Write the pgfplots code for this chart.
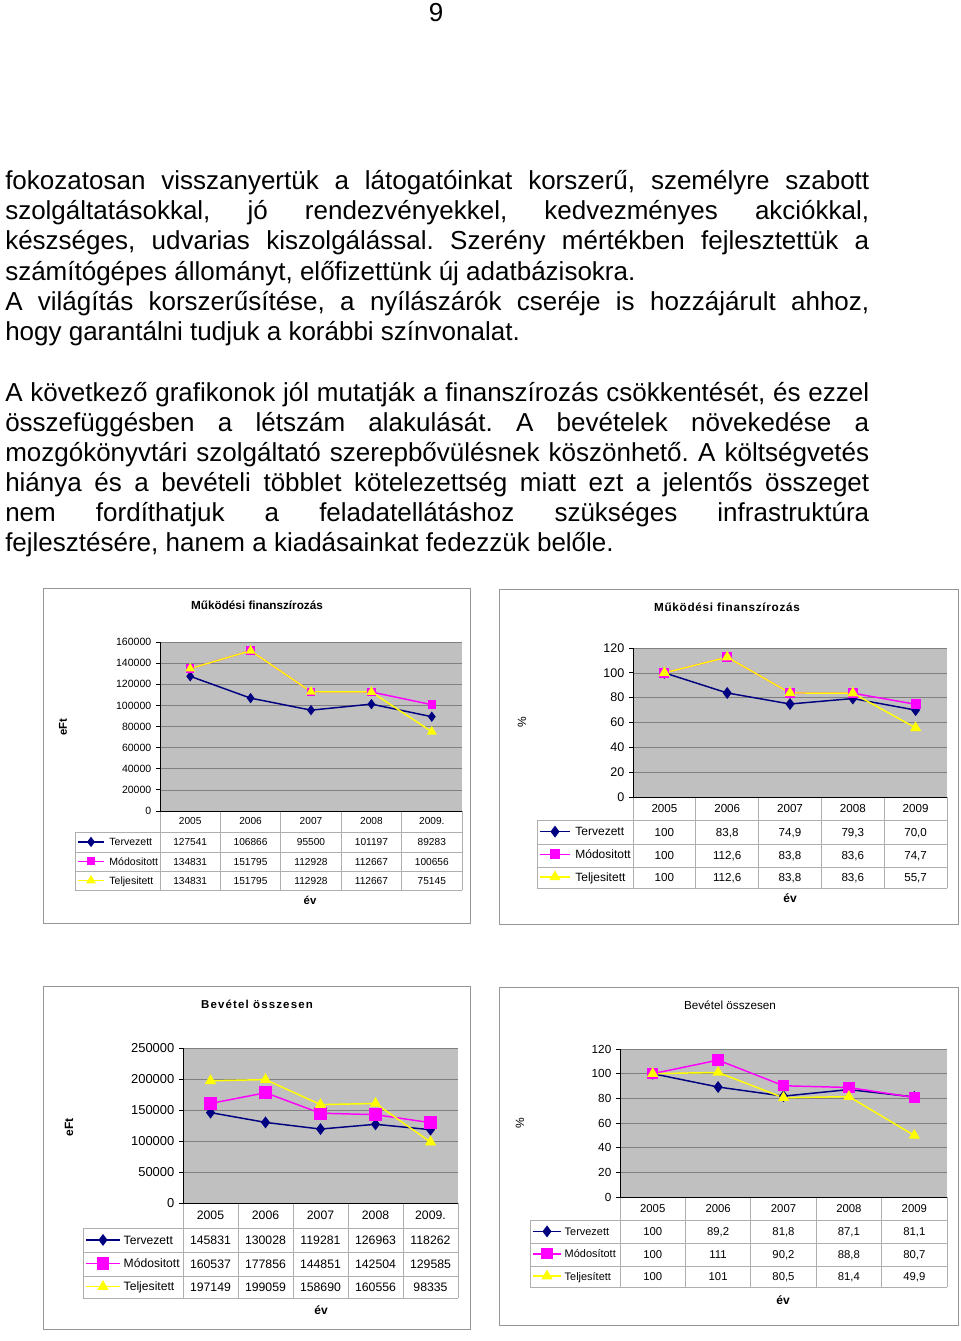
\documentclass[border=0pt]{standalone}
\usepackage{fontspec}
\setmainfont{Liberation Sans}
\usepackage{pgfplots}
\pgfplotsset{compat=1.18}

\definecolor{plotgray}{RGB}{192,192,192}
\definecolor{gridgray}{RGB}{128,128,128}
\definecolor{tgray}{RGB}{175,175,175}
\definecolor{framegray}{RGB}{150,150,150}
\definecolor{navy}{RGB}{0,0,128}
\definecolor{magen}{RGB}{255,0,255}
\definecolor{yel}{RGB}{255,255,0}

\pgfplotsset{
  xls/.style={
    scale only axis, clip=false,
    xmin=-0.5, xmax=4.5, ymin=0,
    xtick=\empty,
    minor xtick={-0.5,0.5,1.5,2.5,3.5,4.5},
    xminorgrids=true, ymajorgrids=true,
    major grid style={gridgray, line width=0.5pt},
    minor grid style={gridgray, line width=0.5pt},
    axis background/.style={fill=plotgray},
    axis x line*=bottom, axis y line*=left,
    axis line style={black, line width=0.6pt, -},
    tick align=outside, major tick length=3pt, minor tick length=0pt,
    tick style={black, line width=0.6pt},
    /pgf/number format/fixed,
    /pgf/number format/1000 sep={},
    /pgf/number format/assume math mode=true,
    scaled y ticks=false,
    legend cell align=left,
  },
  % legend sitting in the first column of the data table (position in axis description cs)
  tleg/.style n args={5}{legend style={at={(#1,#2)}, anchor=north west, draw=none, fill=none,
      inner sep=0pt, row sep=0pt, column sep=#5, font=\fontsize{#3}{#3}\selectfont,
      nodes={inner sep=0pt, minimum height=#4, text height=0.72*#3pt, text depth=0pt}}},
  terv/.style={navy, line width=1.1pt, mark=diamond*, mark size=3.6pt, mark options={solid, fill=navy}},
  modo/.style={magen, line width=1.1pt, mark=square*, mark size=3.2pt, mark options={solid, fill=magen}},
  telj/.style={yel, line width=1.1pt, mark=triangle*, mark size=3.8pt, mark options={solid, fill=yel}},
}

\tikzset{
  tc/.style={inner sep=0pt, anchor=base, font=\fontsize{#1}{#1}\selectfont, yshift={-0.358*#1pt}},
  tgrid/.style={tgray, line width=0.6pt},
}

% table row of values: x left, column width, y centre, font size, list
\newcommand\trow[5]{\foreach \v [count=\i from 0] in {#5} {\node[tc=#4] at ({#1+(\i+0.5)*#2},#3) {\v};}}
% table grid: legend left, plot left, plot right, plot bottom, row1 top, row2 top, row3 top, bottom
\newcommand\tgridlines[8]{%
  \draw[tgrid] (#1,#5) -- (#3,#5) (#1,#6) -- (#3,#6) (#1,#7) -- (#3,#7) (#1,#8) -- (#3,#8) (#1,#5) -- (#1,#8);
  \foreach \k in {0,...,5} {\draw[tgrid] ({#2+\k*(#3-#2)/5},#4) -- ({#2+\k*(#3-#2)/5},#8);}}

\newcommand\body{\fontsize{19.5}{22}\selectfont}

\begin{document}
\frenchspacing
\begin{tikzpicture}
\begin{scope}[x=0.75pt, y=-0.75pt]
\fill[white] (0,0) rectangle (960,1341);

\node[anchor=base, inner sep=0pt, font=\body] at (436,22) {9};

\begin{scope}[every node/.style={anchor=base west, inner sep=0pt, font=\body}]
\node at (5,190) {\makebox[648pt][s]{fokozatosan visszanyertük a látogatóinkat korszerű, személyre szabott}};
\node at (5,220) {\makebox[648pt][s]{szolgáltatásokkal, jó rendezvényekkel, kedvezményes akciókkal,}};
\node at (5,250) {\makebox[648pt][s]{készséges, udvarias kiszolgálással. Szerény mértékben fejlesztettük a}};
\node at (5,280) {számítógépes állományt, előfizettünk új adatbázisokra.};
\node at (5,310) {\makebox[648pt][s]{A világítás korszerűsítése, a nyílászárók cseréje is hozzájárult ahhoz,}};
\node at (5,340) {hogy garantálni tudjuk a korábbi színvonalat.};
\node at (5,401) {\makebox[648pt][s]{A következő grafikonok jól mutatják a finanszírozás csökkentését, és ezzel}};
\node at (5,431) {\makebox[648pt][s]{összefüggésben a létszám alakulását. A bevételek növekedése a}};
\node at (5,461) {\makebox[648pt][s]{mozgókönyvtári szolgáltató szerepbővülésnek köszönhető. A költségvetés}};
\node at (5,491) {\makebox[648pt][s]{hiánya és a bevételi többlet kötelezettség miatt ezt a jelentős összeget}};
\node at (5,521) {\makebox[648pt][s]{nem fordíthatjuk a feladatellátáshoz szükséges infrastruktúra}};
\node at (5,551) {fejlesztésére, hanem a kiadásainkat fedezzük belőle.};
\end{scope}

% ---- chart frames, titles, labels, tables
\draw[framegray, line width=0.75pt] (43,588) rectangle (470,923);
\draw[framegray, line width=0.75pt] (499,589) rectangle (958,924);
\draw[framegray, line width=0.75pt] (43,986) rectangle (470,1329);
\draw[framegray, line width=0.75pt] (499,987) rectangle (958,1325);

% chart 1
\node[font=\fontsize{8.8}{10}\selectfont\bfseries] at (257,605) {Működési finanszírozás};
\node[rotate=90, font=\fontsize{8.5}{10}\selectfont\bfseries] at (63,727) {eFt};
\node[font=\fontsize{8.5}{10}\selectfont\bfseries] at (310,900) {év};
\tgridlines{75}{160}{462}{811}{832}{852}{871}{890}
\trow{160}{60.4}{821}{7.6}{2005,2006,2007,2008,2009.}
\trow{160}{60.4}{842}{7.6}{127541,106866,95500,101197,89283}
\trow{160}{60.4}{861.5}{7.6}{134831,151795,112928,112667,100656}
\trow{160}{60.4}{880.5}{7.6}{134831,151795,112928,112667,75145}
\coordinate (P1) at (160,811);

% chart 2
\node[font=\fontsize{8.8}{10}\selectfont\bfseries\addfontfeatures{LetterSpace=6}] at (727,607) {Működési finanszírozás};
\node[rotate=90, font=\fontsize{9}{10}\selectfont] at (522,722) {\%};
\node[font=\fontsize{9}{10}\selectfont\bfseries] at (790,898) {év};
\tgridlines{537}{633}{947}{797}{820}{844}{867}{888}
\trow{633}{62.8}{808.5}{8.7}{2005,2006,2007,2008,2009}
\trow{633}{62.8}{832}{8.7}{100,{83,8},{74,9},{79,3},{70,0}}
\trow{633}{62.8}{855.5}{8.7}{100,{112,6},{83,8},{83,6},{74,7}}
\trow{633}{62.8}{877.5}{8.7}{100,{112,6},{83,8},{83,6},{55,7}}
\coordinate (P2) at (633,797);

% chart 3
\node[font=\fontsize{8.6}{10}\selectfont\bfseries\addfontfeatures{LetterSpace=10}] at (257,1004) {Bevétel összesen};
\node[rotate=90, font=\fontsize{9}{10}\selectfont\bfseries] at (69,1127) {eFt};
\node[font=\fontsize{9}{10}\selectfont\bfseries] at (321,1310) {év};
\tgridlines{83}{183}{458}{1203}{1228}{1252}{1276}{1298}
\trow{183}{55}{1215.5}{9.2}{2005,2006,2007,2008,2009.}
\trow{183}{55}{1240}{9.2}{145831,130028,119281,126963,118262}
\trow{183}{55}{1264}{9.2}{160537,177856,144851,142504,129585}
\trow{183}{55}{1287}{9.2}{197149,199059,158690,160556,98335}
\coordinate (P3) at (183,1203);

% chart 4
\node[font=\fontsize{8.8}{10}\selectfont] at (730,1005) {Bevétel összesen};
\node[rotate=90, font=\fontsize{9}{10}\selectfont] at (520,1123) {\%};
\node[font=\fontsize{9}{10}\selectfont\bfseries] at (783,1300) {év};
\tgridlines{530}{620}{947}{1197}{1220}{1243}{1266}{1287}
\trow{620}{65.4}{1208.5}{8.5}{2005,2006,2007,2008,2009}
\trow{620}{65.4}{1231.5}{8.5}{100,{89,2},{81,8},{87,1},{81,1}}
\trow{620}{65.4}{1254.5}{8.5}{100,111,{90,2},{88,8},{80,7}}
\trow{620}{65.4}{1276.5}{8.5}{100,101,{80,5},{81,4},{49,9}}
\coordinate (P4) at (620,1197);
\end{scope}

% ---- chart 1: Működési finanszírozás, eFt
\begin{axis}[xls, at={(P1)}, anchor=south west, width=226.5pt, height=126.75pt,
  ymax=160000, ytick={0,20000,40000,60000,80000,100000,120000,140000,160000},
  yticklabel style={font=\fontsize{7.9}{9}\selectfont},
  tleg={-0.2748}{-0.1243}{7.9}{14.5pt}{3.5pt},
  legend image code/.code={\draw[mark repeat=2, mark phase=2] plot coordinates {(0pt,0pt) (9.75pt,0pt) (19.5pt,0pt)};},
]
\addplot[terv, mark size=3pt] coordinates {(0,127541) (1,106866) (2,95500) (3,101197) (4,89283)};
\addlegendentry{Tervezett}
\addplot[modo, mark size=2.6pt] coordinates {(0,134831) (1,151795) (2,112928) (3,112667) (4,100656)};
\addlegendentry{Módositott}
\addplot[telj, mark size=3.2pt] coordinates {(0,134831) (1,151795) (2,112928) (3,112667) (4,75145)};
\addlegendentry{Teljesitett}
\end{axis}

% ---- chart 2: Működési finanszírozás, %
\begin{axis}[xls, at={(P2)}, anchor=south west, width=235.5pt, height=111.75pt,
  ymax=120, ytick={0,20,40,60,80,100,120},
  yticklabel style={font=\fontsize{9.4}{10}\selectfont},
  tleg={-0.2994}{-0.1544}{9}{17pt}{3.5pt},
  legend image code/.code={\draw[mark repeat=2, mark phase=2] plot coordinates {(0pt,0pt) (11.25pt,0pt) (22.5pt,0pt)};},
]
\addplot[terv] coordinates {(0,100) (1,83.8) (2,74.9) (3,79.3) (4,70.0)};
\addlegendentry{Tervezett}
\addplot[modo] coordinates {(0,100) (1,112.6) (2,83.8) (3,83.6) (4,74.7)};
\addlegendentry{Módositott}
\addplot[telj] coordinates {(0,100) (1,112.6) (2,83.8) (3,83.6) (4,55.7)};
\addlegendentry{Teljesitett}
\end{axis}

% ---- chart 3: Bevétel összesen, eFt
\begin{axis}[xls, at={(P3)}, anchor=south west, width=206.25pt, height=116.25pt,
  ymax=250000, ytick={0,50000,100000,150000,200000,250000},
  yticklabel style={font=\fontsize{9.7}{11}\selectfont},
  tleg={-0.3564}{-0.1613}{9.1}{17.5pt}{2.25pt},
  legend image code/.code={\draw[mark repeat=2, mark phase=2] plot coordinates {(0pt,0pt) (12.75pt,0pt) (25.5pt,0pt)};},
]
\addplot[terv] coordinates {(0,145831) (1,130028) (2,119281) (3,126963) (4,118262)};
\addlegendentry{Tervezett}
\addplot[modo, mark size=4.2pt] coordinates {(0,160537) (1,177856) (2,144851) (3,142504) (4,129585)};
\addlegendentry{Módositott}
\addplot[telj] coordinates {(0,197149) (1,199059) (2,158690) (3,160556) (4,98335)};
\addlegendentry{Teljesitett}
\end{axis}

% ---- chart 4: Bevétel összesen, %
\begin{axis}[xls, at={(P4)}, anchor=south west, width=245.25pt, height=111pt,
  ymax=120, ytick={0,20,40,60,80,100,120},
  yticklabel style={font=\fontsize{8.8}{10}\selectfont},
  tleg={-0.2691}{-0.1554}{8.2}{16.75pt}{2.25pt},
  legend image code/.code={\draw[mark repeat=2, mark phase=2] plot coordinates {(0pt,0pt) (10.5pt,0pt) (21pt,0pt)};},
]
\addplot[terv] coordinates {(0,100) (1,89.2) (2,81.8) (3,87.1) (4,81.1)};
\addlegendentry{Tervezett}
\addplot[modo, mark size=3.7pt] coordinates {(0,100) (1,111) (2,90.2) (3,88.8) (4,80.7)};
\addlegendentry{Módosított}
\addplot[telj] coordinates {(0,100) (1,101) (2,80.5) (3,81.4) (4,49.9)};
\addlegendentry{Teljesített}
\end{axis}

\pgfresetboundingbox
\path[use as bounding box] (0,0) rectangle (720pt,-1005.75pt);
\end{tikzpicture}
\end{document}
